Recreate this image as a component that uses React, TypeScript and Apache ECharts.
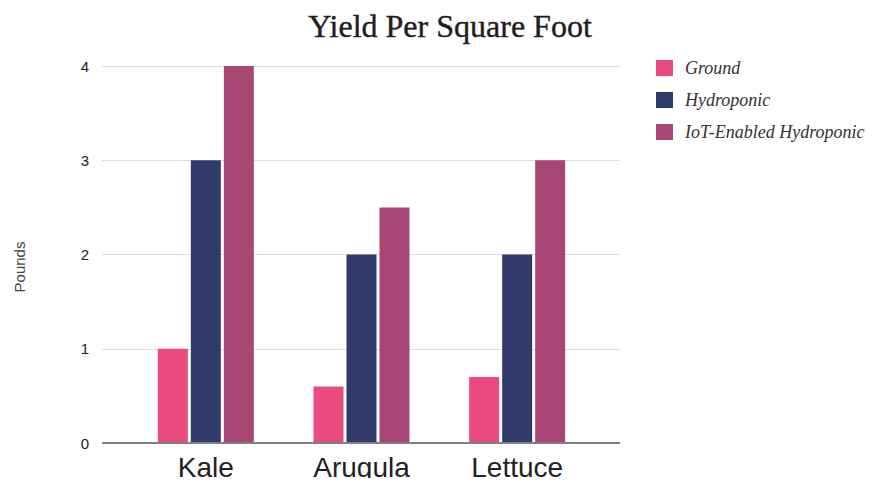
import React, { useEffect, useRef } from "react";
import * as echarts from "echarts";

const categories = ["Kale", "Arugula", "Lettuce"];
const groundYield = [1, 0.6, 0.7];
const hydroponicYield = [3, 2, 2];
const iotHydroponicYield = [4, 2.5, 3];
const yTicks = [0, 1, 2, 3, 4];

const seriesNames = ["Ground", "Hydroponic", "IoT-Enabled Hydroponic"];
const seriesColors = ["#EA4A7D", "#313B6B", "#A84676"];

export default function App() {
  const ref = useRef<HTMLDivElement>(null);

  useEffect(() => {
    if (!ref.current) return;
    const chart = echarts.init(ref.current, null, { renderer: "svg" });
    const yMin = yTicks[0];
    const yMax = yTicks[yTicks.length - 1];

    const values = [groundYield, hydroponicYield, iotHydroponicYield];

    chart.setOption({
      animation: false,
      backgroundColor: "#ffffff",
      title: {
        text: "Yield Per Square Foot",
        left: 445,
        top: 5,
        textAlign: "center",
        textStyle: {
          fontFamily: "Liberation Serif",
          fontSize: 32,
          fontWeight: "normal",
          color: "#1e1e1e",
          textBorderColor: "#1e1e1e",
          textBorderWidth: 0.4,
        },
      },
      legend: {
        orient: "vertical",
        left: 651,
        top: 54,
        itemWidth: 17,
        itemHeight: 16,
        itemGap: 14,
        icon: "rect",
        data: seriesNames,
        textStyle: {
          fontFamily: "Liberation Serif",
          fontStyle: "italic",
          fontSize: 18,
          color: "#333333",
          padding: [0, 0, 0, 7],
        },
      },
      graphic: [
        {
          type: "text",
          x: 19,
          y: 267,
          rotation: Math.PI / 2,
          style: {
            text: "Pounds",
            fontFamily: "Liberation Sans",
            fontSize: 15,
            fill: "#444444",
            textAlign: "center",
            textVerticalAlign: "middle",
          },
        },
      ],
      grid: [
        // gridlines and value axis span the full plot width
        { left: 102, right: 260, top: 66, bottom: 43 },
        // bars sit in a narrower inner band
        { left: 128, right: 285, top: 66, bottom: 43 },
      ],
      xAxis: [
        {
          gridIndex: 0,
          type: "value",
          min: 0,
          max: 1,
          show: false,
        },
        {
          gridIndex: 1,
          type: "category",
          data: categories,
          axisLine: { show: false },
          axisTick: { show: false },
          axisLabel: {
            margin: 10,
            fontFamily: "Liberation Sans",
            fontSize: 28,
            color: "#222222",
          },
        },
      ],
      yAxis: [
        {
          gridIndex: 0,
          type: "value",
          min: yMin,
          max: yMax,
          interval: 1,
          axisLine: { show: false },
          axisTick: { show: false },
          axisLabel: {
            margin: 13,
            fontFamily: "Liberation Sans",
            fontSize: 15,
            color: "#222222",
          },
          splitLine: {
            show: true,
            lineStyle: { color: "#dddddd", width: 1 },
          },
        },
        {
          gridIndex: 1,
          type: "value",
          min: yMin,
          max: yMax,
          interval: 1,
          show: false,
          splitLine: { show: false },
        },
      ],
      series: [
        {
          type: "line",
          xAxisIndex: 0,
          yAxisIndex: 0,
          data: [],
          silent: true,
          markLine: {
            silent: true,
            symbol: "none",
            label: { show: false },
            lineStyle: { color: "#808080", width: 2, type: "solid" },
            data: [{ yAxis: 0 }],
          },
        },
        ...seriesNames.map((name, i) => ({
          name,
          type: "bar",
          xAxisIndex: 1,
          yAxisIndex: 1,
          data: values[i],
          barWidth: 30,
          barGap: "10%",
          itemStyle: { color: seriesColors[i] },
        })),
      ],
    });

    return () => chart.dispose();
  }, []);

  return <div ref={ref} style={{ width: 880, height: 486, margin: -8 }} />;
}
